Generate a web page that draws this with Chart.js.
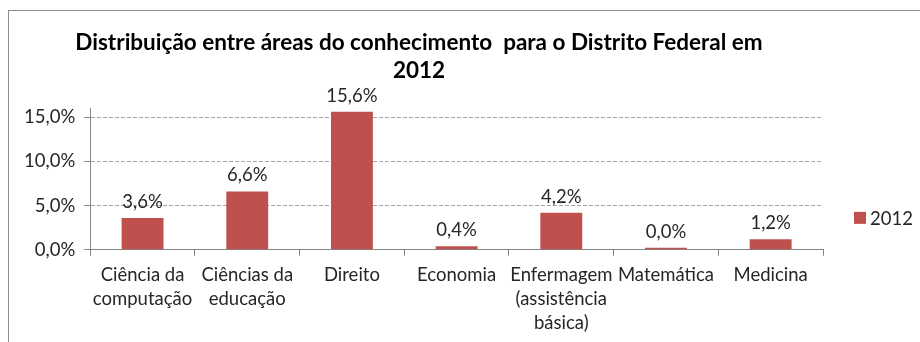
<!DOCTYPE html>
<html>
<head>
<meta charset="utf-8">
<script src="https://cdn.jsdelivr.net/npm/chart.js@4/dist/chart.umd.min.js"></script>
<style>
  html, body { margin: 0; padding: 0; background: #fff; }
  #wrap { position: relative; width: 920px; height: 342px; overflow: hidden; }
  #frame { position: absolute; left: 8px; top: 10px; right: -2px; bottom: -2px;
           border-left: 1px solid #8c8c8c; border-top: 1px solid #8c8c8c; }
  canvas { position: absolute; left: 0; top: 0; }
</style>
</head>
<body>
<div id="wrap">
  <div id="frame"></div>
  <canvas id="c" width="920" height="342"></canvas>
</div>
<script>
// Áreas do conhecimento (rótulos quebrados em linhas)
const categories = [
  ["Ciência da", "computação"],
  ["Ciências da", "educação"],
  "Direito",
  "Economia",
  ["Enfermagem", "(assistência", "básica)"],
  "Matemática",
  "Medicina"
];
// Percentual por área em 2012
const values2012 = [3.6, 6.6, 15.6, 0.4, 4.2, 0.0, 1.2];
const seriesName = "2012";
const yTicks = [0, 5, 10, 15];

const FONT = "Lato, 'Liberation Sans', sans-serif";
const TEXT = "#262626";
const BAR = "#C0504D";
const FS = 18.5;

const fmtPct = v => v.toFixed(1).replace(".", ",") + "%";

// Rótulos de valor acima de cada barra
const valueLabels = {
  id: "valueLabels",
  afterDatasetsDraw(chart) {
    const ctx = chart.ctx;
    ctx.save();
    ctx.font = FS + "px " + FONT;
    ctx.fillStyle = TEXT;
    ctx.textAlign = "center";
    ctx.textBaseline = "alphabetic";
    chart.getDatasetMeta(0).data.forEach((bar, i) => {
      const v = chart.data.datasets[0].data[i];
      ctx.fillText(fmtPct(v), bar.x, bar.y - 10);
    });
    ctx.restore();
  }
};

// Legenda à direita da área do gráfico
const sideLegend = {
  id: "sideLegend",
  afterDraw(chart) {
    const ctx = chart.ctx;
    const area = chart.chartArea;
    const ds = chart.data.datasets[0];
    const x = area.right + 31;
    const y = area.bottom - 32;
    ctx.save();
    ctx.fillStyle = ds.backgroundColor;
    ctx.fillRect(x, y - 6, 12, 12);
    ctx.font = FS + "px " + FONT;
    ctx.fillStyle = TEXT;
    ctx.textAlign = "left";
    ctx.textBaseline = "middle";
    ctx.fillText(ds.label, x + 16, y + 1);
    ctx.restore();
  }
};

new Chart(document.getElementById("c"), {
  type: "bar",
  data: {
    labels: categories,
    datasets: [{
      label: seriesName,
      data: values2012,
      backgroundColor: BAR,
      borderWidth: 0,
      categoryPercentage: 1.0,
      barPercentage: 0.4,
      minBarLength: 2
    }]
  },
  options: {
    responsive: false,
    animation: false,
    devicePixelRatio: 1,
    layout: { padding: { left: 15, right: 97, top: 29, bottom: 0 } },
    plugins: {
      title: {
        display: true,
        text: ["Distribuição entre áreas do conhecimento  para o Distrito Federal em", "2012"],
        color: "#000",
        font: { family: FONT, size: 22.5, weight: "bold", lineHeight: 1.25 },
        padding: { top: 0, bottom: 23 }
      },
      legend: { display: false },
      tooltip: { enabled: false }
    },
    scales: {
      x: {
        grid: {
          drawOnChartArea: false,
          drawTicks: true,
          tickLength: 6,
          color: "#868686",
          offset: true
        },
        border: { color: "#868686" },
        ticks: {
          color: TEXT,
          font: { family: FONT, size: FS, lineHeight: 1.3 },
          maxRotation: 0,
          autoSkip: false,
          padding: 7
        }
      },
      y: {
        min: 0,
        max: 16,
        afterBuildTicks(axis) { axis.ticks = yTicks.map(v => ({ value: v })); },
        grid: {
          color: ctx => ctx.tick && ctx.tick.value === 0 ? "rgba(0,0,0,0)" : "#a6a6a6",
          tickBorderDash: [],
          tickColor: "#868686",
          tickLength: 6
        },
        border: { color: "#868686", dash: [4, 2] },
        ticks: {
          color: TEXT,
          font: { family: FONT, size: FS },
          padding: 9,
          callback: v => fmtPct(v)
        }
      }
    }
  },
  plugins: [valueLabels, sideLegend]
});
</script>
</body>
</html>
